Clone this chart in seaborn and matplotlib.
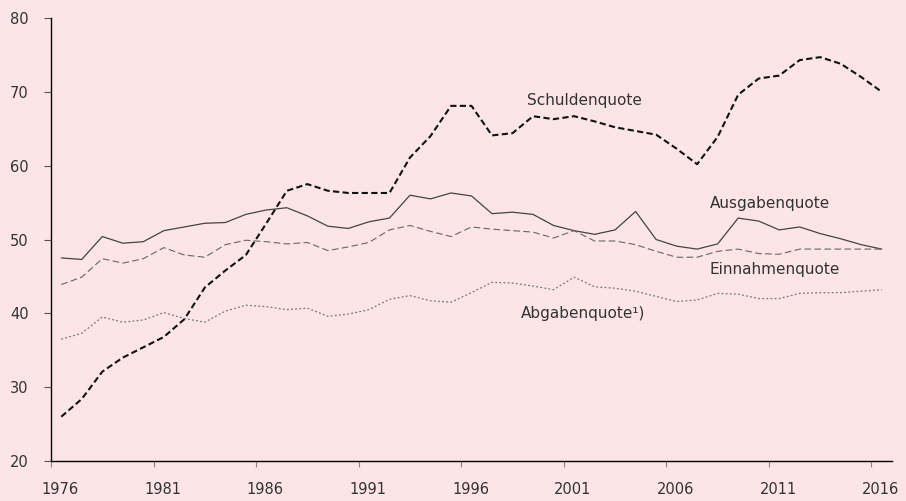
import numpy as np
import pandas as pd
import matplotlib
matplotlib.use('Agg')
import matplotlib.pyplot as plt
import seaborn as sns

# Daten (Prozent des BIP)
years = list(range(1976, 2017))

schuldenquote = [26.0, 28.4, 32.1, 34.0, 35.4, 36.8, 39.2, 43.5, 45.8, 47.9,
                 52.2, 56.6, 57.5, 56.6, 56.3, 56.3, 56.3, 61.1, 64.0, 68.1,
                 68.1, 64.1, 64.4, 66.7, 66.3, 66.7, 66.0, 65.2, 64.7, 64.2,
                 62.3, 60.2, 63.9, 69.6, 71.8, 72.2, 74.3, 74.7, 73.8, 72.0,
                 70.0]

ausgabenquote = [47.5, 47.3, 50.4, 49.5, 49.7, 51.2, 51.7, 52.2, 52.3, 53.4,
                 54.0, 54.3, 53.2, 51.8, 51.5, 52.4, 52.9, 56.0, 55.5, 56.3,
                 55.9, 53.5, 53.7, 53.4, 51.9, 51.2, 50.7, 51.3, 53.8, 50.0,
                 49.1, 48.7, 49.4, 52.9, 52.5, 51.3, 51.7, 50.8, 50.1, 49.3,
                 48.7]

einnahmenquote = [43.9, 44.9, 47.4, 46.8, 47.4, 48.9, 47.9, 47.6, 49.3, 49.9,
                  49.7, 49.4, 49.6, 48.5, 49.0, 49.6, 51.3, 51.9, 51.1, 50.4,
                  51.7, 51.4, 51.2, 51.0, 50.2, 51.2, 49.8, 49.8, 49.3, 48.4,
                  47.6, 47.6, 48.4, 48.7, 48.1, 48.0, 48.7, 48.7, 48.7, 48.7,
                  48.7]

abgabenquote = [36.5, 37.3, 39.5, 38.8, 39.1, 40.1, 39.3, 38.8, 40.3, 41.1,
                40.9, 40.5, 40.7, 39.6, 39.9, 40.5, 41.9, 42.4, 41.7, 41.5,
                42.8, 44.2, 44.1, 43.7, 43.2, 44.9, 43.6, 43.4, 43.0, 42.3,
                41.6, 41.8, 42.7, 42.6, 42.0, 42.0, 42.7, 42.8, 42.8, 43.0,
                43.2]

x_ticks = list(range(1976, 2017, 5))
y_ticks = [20, 30, 40, 50, 60, 70, 80]

bg = '#FDE4E6'
txt = '#333333'

sns.set_style('ticks')
plt.rcParams['font.family'] = ['DejaVu Sans']

fig = plt.figure(figsize=(9.06, 5.01), dpi=100, facecolor=bg)
ax = fig.add_axes([51 / 906, 1 - 461 / 501, (892 - 51) / 906, (461 - 18) / 501])
ax.set_facecolor(bg)

# Jahreswerte in der Mitte des Jahres
xs = np.array(years) + 0.5

sns.lineplot(x=xs, y=schuldenquote, ax=ax, color='#111111', linewidth=1.5)
ax.lines[-1].set_dashes([3, 1.6])
sns.lineplot(x=xs, y=ausgabenquote, ax=ax, color='#444444', linewidth=0.9)
sns.lineplot(x=xs, y=einnahmenquote, ax=ax, color='#666666', linewidth=0.8)
ax.lines[-1].set_dashes([6, 3])
sns.lineplot(x=xs, y=abgabenquote, ax=ax, color='#777777', linewidth=0.9)
ax.lines[-1].set_dashes([1.5, 1.8])

ax.set_xlim(1976, 2017)
ax.set_ylim(20, 80)

# Achsen
sns.despine(ax=ax)
for s in ['left', 'bottom']:
    ax.spines[s].set_color('black')
    ax.spines[s].set_linewidth(1.0)

ax.set_yticks(y_ticks)
ax.set_yticklabels([str(v) for v in y_ticks])
ax.tick_params(axis='y', length=5, width=0.8, color='#555555', pad=11,
               labelsize=10.5, labelcolor=txt)

ax.set_xticks(x_ticks)
ax.set_xticklabels([])
ax.tick_params(axis='x', which='major', length=4, width=0.8, color='#888888')
ax.set_xticks([y + 0.45 for y in x_ticks], minor=True)
ax.set_xticklabels([str(y) for y in x_ticks], minor=True)
ax.tick_params(axis='x', which='minor', length=0, pad=15, labelsize=10.5,
               labelcolor=txt)

ax.set_xlabel('')
ax.set_ylabel('')

# Beschriftungen der Linien
ax.text(1999.2, 68.8, 'Schuldenquote', fontsize=11, color=txt, va='center')
ax.text(2008.1, 54.9, 'Ausgabenquote', fontsize=11, color=txt, va='center')
ax.text(2008.1, 46.0, 'Einnahmenquote', fontsize=11, color=txt, va='center')
ax.text(1998.9, 40.0, 'Abgabenquote¹)', fontsize=11, color=txt, va='center')

plt.savefig('out.png', dpi=100, facecolor=bg)
